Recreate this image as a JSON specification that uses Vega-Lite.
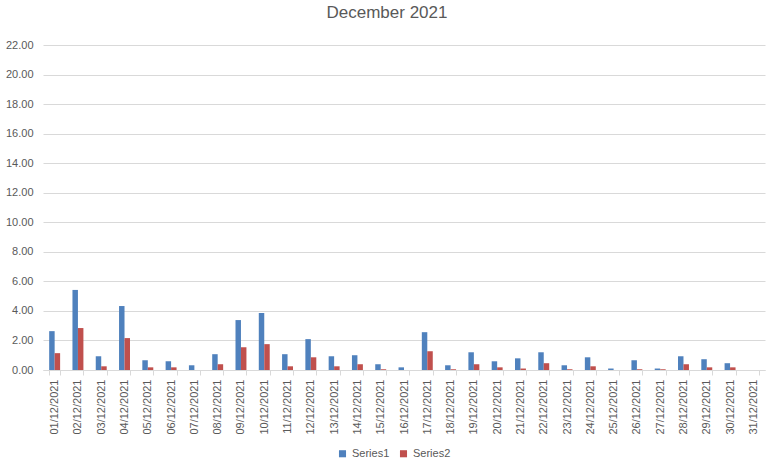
{
  "$schema": "https://vega.github.io/schema/vega-lite/v6.json",
  "autosize": {"type": "none"},
  "padding": {"left": 43, "top": 45, "right": 9, "bottom": 97},
  "width": 722,
  "height": 325,
  "background": "white",
  "title": {"text": "December 2021", "fontSize": 17, "font": "Liberation Sans", "fontWeight": "normal", "color": "#595959", "anchor": "middle", "offset": 17, "dx": -17},
  "config": {"view": {"stroke": null}, "font": "Liberation Sans"},
  "data": {"values": [
    {"date": "01/12/2021", "series": "Series1", "value": 2.63}, {"date": "01/12/2021", "series": "Series2", "value": 1.14},
    {"date": "02/12/2021", "series": "Series1", "value": 5.42}, {"date": "02/12/2021", "series": "Series2", "value": 2.84},
    {"date": "03/12/2021", "series": "Series1", "value": 0.93}, {"date": "03/12/2021", "series": "Series2", "value": 0.25},
    {"date": "04/12/2021", "series": "Series1", "value": 4.33}, {"date": "04/12/2021", "series": "Series2", "value": 2.16},
    {"date": "05/12/2021", "series": "Series1", "value": 0.66}, {"date": "05/12/2021", "series": "Series2", "value": 0.18},
    {"date": "06/12/2021", "series": "Series1", "value": 0.59}, {"date": "06/12/2021", "series": "Series2", "value": 0.18},
    {"date": "07/12/2021", "series": "Series1", "value": 0.32}, {"date": "07/12/2021", "series": "Series2", "value": 0},
    {"date": "08/12/2021", "series": "Series1", "value": 1.07}, {"date": "08/12/2021", "series": "Series2", "value": 0.39},
    {"date": "09/12/2021", "series": "Series1", "value": 3.38}, {"date": "09/12/2021", "series": "Series2", "value": 1.54},
    {"date": "10/12/2021", "series": "Series1", "value": 3.86}, {"date": "10/12/2021", "series": "Series2", "value": 1.75},
    {"date": "11/12/2021", "series": "Series1", "value": 1.07}, {"date": "11/12/2021", "series": "Series2", "value": 0.25},
    {"date": "12/12/2021", "series": "Series1", "value": 2.09}, {"date": "12/12/2021", "series": "Series2", "value": 0.86},
    {"date": "13/12/2021", "series": "Series1", "value": 0.93}, {"date": "13/12/2021", "series": "Series2", "value": 0.25},
    {"date": "14/12/2021", "series": "Series1", "value": 1.0}, {"date": "14/12/2021", "series": "Series2", "value": 0.39},
    {"date": "15/12/2021", "series": "Series1", "value": 0.39}, {"date": "15/12/2021", "series": "Series2", "value": 0.05},
    {"date": "16/12/2021", "series": "Series1", "value": 0.18}, {"date": "16/12/2021", "series": "Series2", "value": 0},
    {"date": "17/12/2021", "series": "Series1", "value": 2.56}, {"date": "17/12/2021", "series": "Series2", "value": 1.27},
    {"date": "18/12/2021", "series": "Series1", "value": 0.32}, {"date": "18/12/2021", "series": "Series2", "value": 0.05},
    {"date": "19/12/2021", "series": "Series1", "value": 1.2}, {"date": "19/12/2021", "series": "Series2", "value": 0.39},
    {"date": "20/12/2021", "series": "Series1", "value": 0.59}, {"date": "20/12/2021", "series": "Series2", "value": 0.18},
    {"date": "21/12/2021", "series": "Series1", "value": 0.79}, {"date": "21/12/2021", "series": "Series2", "value": 0.1},
    {"date": "22/12/2021", "series": "Series1", "value": 1.2}, {"date": "22/12/2021", "series": "Series2", "value": 0.46},
    {"date": "23/12/2021", "series": "Series1", "value": 0.32}, {"date": "23/12/2021", "series": "Series2", "value": 0.05},
    {"date": "24/12/2021", "series": "Series1", "value": 0.86}, {"date": "24/12/2021", "series": "Series2", "value": 0.25},
    {"date": "25/12/2021", "series": "Series1", "value": 0.1}, {"date": "25/12/2021", "series": "Series2", "value": 0},
    {"date": "26/12/2021", "series": "Series1", "value": 0.66}, {"date": "26/12/2021", "series": "Series2", "value": 0.05},
    {"date": "27/12/2021", "series": "Series1", "value": 0.1}, {"date": "27/12/2021", "series": "Series2", "value": 0.05},
    {"date": "28/12/2021", "series": "Series1", "value": 0.93}, {"date": "28/12/2021", "series": "Series2", "value": 0.39},
    {"date": "29/12/2021", "series": "Series1", "value": 0.73}, {"date": "29/12/2021", "series": "Series2", "value": 0.18},
    {"date": "30/12/2021", "series": "Series1", "value": 0.46}, {"date": "30/12/2021", "series": "Series2", "value": 0.18},
    {"date": "31/12/2021", "series": "Series1", "value": 0}, {"date": "31/12/2021", "series": "Series2", "value": 0}
  ]},
  "mark": {"type": "bar"},
  "encoding": {
    "x": {
      "field": "date", "type": "nominal", "sort": null, "title": null,
      "scale": {"paddingInner": 0.53, "paddingOuter": 0.265},
      "axis": {"labelAngle": -90, "labelFontSize": 11, "labelColor": "#595959", "domainColor": "#d9d9d9", "tickColor": "#d9d9d9", "tickBand": "extent", "tickSize": 5, "labelPadding": 4}
    },
    "xOffset": {"field": "series", "type": "nominal"},
    "y": {
      "field": "value", "type": "quantitative", "title": null,
      "scale": {"domain": [0, 22]},
      "axis": {"values": [0, 2, 4, 6, 8, 10, 12, 14, 16, 18, 20, 22], "format": ".2f", "domain": false, "ticks": false, "gridColor": "#d9d9d9", "labelFontSize": 11, "labelColor": "#595959", "labelPadding": 10}
    },
    "color": {
      "field": "series", "type": "nominal", "title": null,
      "scale": {"domain": ["Series1", "Series2"], "range": ["#4F81BD", "#C0504D"]},
      "legend": {"orient": "none", "legendX": 294, "legendY": 403, "direction": "horizontal", "symbolType": "square", "symbolSize": 50, "symbolStrokeWidth": 0, "labelFontSize": 11, "labelColor": "#595959", "columnPadding": 8}
    }
  }
}
